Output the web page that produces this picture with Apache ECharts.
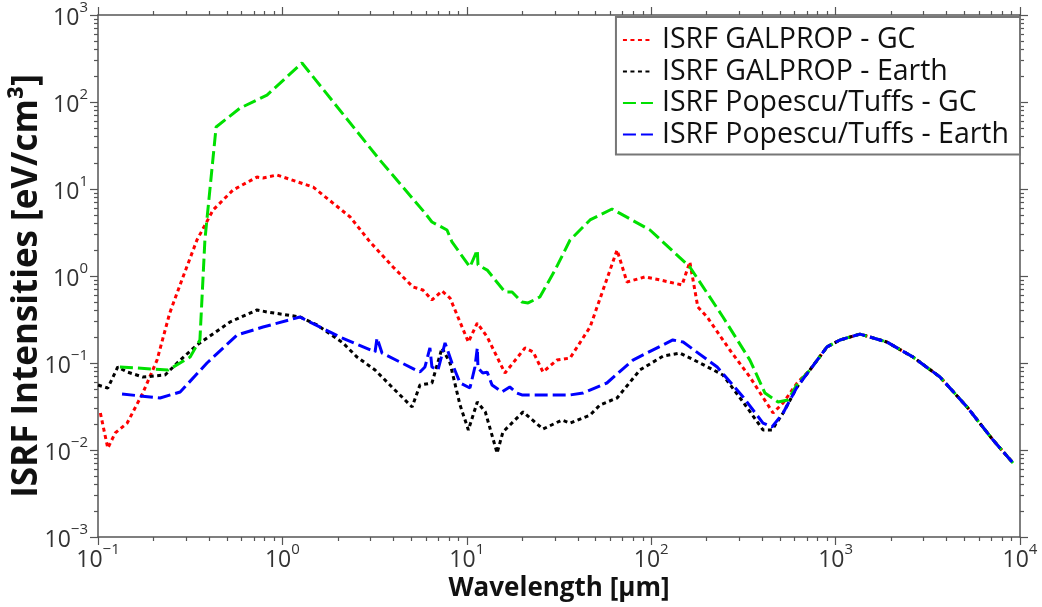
<!DOCTYPE html>
<html>
<head>
<meta charset="utf-8">
<script src="https://cdn.jsdelivr.net/npm/echarts@6/dist/echarts.min.js"></script>
<style>
html,body{margin:0;padding:0;background:#fff;}
#chart{width:1042px;height:607px;}
</style>
</head>
<body>
<div id="chart"></div>
<script>
// ---- data (wavelength in µm, intensity in eV/cm^3) ----
const seriesNames = ['ISRF GALPROP - GC', 'ISRF GALPROP - Earth', 'ISRF Popescu/Tuffs - GC', 'ISRF Popescu/Tuffs - Earth'];

const wlGalGC = [0.103,0.113,0.124,0.144,0.175,0.209,0.245,0.289,0.344,0.421,0.540,0.728,0.785,0.935,1.47,2.33,2.99,3.98,5.11,5.78,6.47,7.34,8.11,10.2,11.4,12.9,16.1,20.7,22.9,25.9,30.8,36.3,46.6,65.3,73.9,92.5,112,147,162,179,201,267,343,458,519,618];
const inGalGC = [0.0266,0.0105,0.0157,0.0204,0.0452,0.108,0.376,0.975,2.59,5.74,9.75,13.7,13.4,14.5,10.5,4.77,2.46,1.27,0.748,0.690,0.530,0.673,0.558,0.174,0.288,0.199,0.0767,0.149,0.134,0.0788,0.108,0.114,0.259,1.99,0.853,0.975,0.90,0.789,1.45,0.44,0.338,0.141,0.069,0.0266,0.0347,0.0589];

const wlGalEarth = [0.100,0.113,0.128,0.144,0.175,0.231,0.279,0.344,0.520,0.728,0.825,1.245,1.54,2.13,2.54,3.18,3.83,5.05,5.57,6.47,7.34,8.11,9.19,10.2,11.4,12.6,14.6,15.7,20.2,25.9,32.8,36.3,46.6,52.7,65.3,86.9,116,143,184,245,315,404,452,519,618];
const inGalEarth = [0.0558,0.0516,0.090,0.0788,0.069,0.0728,0.108,0.161,0.296,0.407,0.386,0.338,0.274,0.170,0.117,0.0832,0.0558,0.0312,0.0558,0.0589,0.149,0.100,0.0329,0.0170,0.0356,0.0274,0.00924,0.0161,0.0274,0.0174,0.0221,0.0204,0.0252,0.0329,0.0396,0.0832,0.120,0.130,0.100,0.0728,0.0356,0.0170,0.0170,0.0266,0.0530];

const wlPopGC = [0.1315,0.240,0.316,0.357,0.380,0.437,0.589,0.825,1.277,3.38,5.93,6.47,7.81,8.31,10.4,11.4,11.5,12.9,16.1,17.6,19.9,21.5,24.9,30.1,36.3,46.6,61.3,98.5,162,245,343,414,487,552,625];
const inPopGC = [0.090,0.083,0.117,0.184,2.6,51.6,85,120,281,21.5,5.3,4.18,3.38,2.46,1.27,1.99,1.34,1.17,0.655,0.655,0.502,0.49,0.574,1.17,2.59,4.41,5.89,3.38,1.27,0.338,0.108,0.0452,0.0356,0.0376,0.0589];

const wlPopEarth = [0.135,0.217,0.279,0.390,0.568,0.785,1.245,2.05,3.18,3.26,3.47,5.57,5.93,6.31,6.47,6.98,7.62,8.31,9.19,10.4,11.07,11.4,11.5,12.2,12.9,13.7,15.5,17.1,18.7,19.9,36.3,42.7,57.5,79.6,131,149,228,315,404,452,519,618];
const inPopEarth = [0.0440,0.0396,0.0464,0.100,0.210,0.259,0.338,0.199,0.134,0.194,0.130,0.0788,0.090,0.149,0.090,0.0832,0.170,0.100,0.0589,0.0516,0.090,0.149,0.0877,0.0767,0.0785,0.0558,0.0464,0.0530,0.0452,0.0429,0.0429,0.0452,0.0589,0.108,0.184,0.174,0.090,0.0407,0.0204,0.0184,0.0266,0.0530];

// common dust-emission tail shared by all four curves
const wlTail = [726,898,1057,1356,1901,2630,3683,5164,7145,9164];
const inTail = [0.0832,0.153,0.184,0.215,0.174,0.117,0.069,0.0312,0.0130,0.0071];

const xMajor = [0.1, 1, 10, 100, 1000, 10000];
const yMajor = [0.001, 0.01, 0.1, 1, 10, 100, 1000];

// ---- build ----
function minors(lo, hi) {
  const out = [];
  for (let k = lo; k < hi; k++) for (let m = 2; m <= 9; m++) out.push(+(m * Math.pow(10, k)).toPrecision(3));
  return out;
}
const xMinor = minors(-1, 4);
const yMinor = minors(-3, 3);

function pairs(wl, iv) {
  const d = wl.map((w, i) => [w, iv[i]]);
  return d.concat(wlTail.map((w, i) => [w, inTail[i]]));
}

const FONT = 'Open Sans';
const AX = '#555';
function supLabel(v) {
  const e = Math.round(Math.log10(v));
  const s = e < 0 ? '\u2212' + (-e) : '' + e;
  return '{b|10}{e|' + s + '}';
}
const rich = {
  b: { fontSize: 23, fontFamily: FONT, color: '#333', lineHeight: 30, verticalAlign: 'bottom' },
  e: { fontSize: 15, fontFamily: FONT, color: '#333', lineHeight: 15, verticalAlign: 'top' }
};

function mkAxis(pos, vals, isMajor, range, extra) {
  const a = {
    type: 'log', logBase: 10, min: range[0], max: range[1], position: pos,
    splitLine: { show: false },
    axisLine: { show: isMajor, onZero: false, lineStyle: { color: AX, width: 1.5 } },
    axisTick: { show: true, inside: false, length: isMajor ? 8 : 4, customValues: vals, lineStyle: { color: AX, width: 1.2 } },
    axisLabel: { show: false }
  };
  return Object.assign(a, extra || {});
}

const xr = [0.1, 10000], yr = [0.001, 1000];
const xAxes = [
  mkAxis('bottom', xMajor, true, xr, {
    axisLabel: { show: true, customValues: xMajor, formatter: supLabel, rich: rich, margin: 5 },
    name: 'Wavelength [\u00b5m]', nameLocation: 'middle', nameGap: 39, nameMoveOverlap: false,
    nameTextStyle: { fontFamily: FONT, fontSize: 26, fontWeight: 'bold', color: '#111' }
  }),
  mkAxis('bottom', xMinor, false, xr),
  mkAxis('top', xMajor, true, xr),
  mkAxis('top', xMinor, false, xr)
];
const yAxes = [
  mkAxis('left', yMajor, true, yr, {
    axisLabel: { show: true, customValues: yMajor, formatter: supLabel, rich: rich, margin: 10 },
    name: 'ISRF Intensities [eV/cm\u00b3]', nameLocation: 'middle', nameGap: 53, nameRotate: 90, nameMoveOverlap: false,
    nameTextStyle: { fontFamily: FONT, fontSize: 35, fontWeight: 'bold', color: '#111', padding: [0, 20, 0, 0] }
  }),
  mkAxis('left', yMinor, false, yr),
  mkAxis('right', yMajor, true, yr),
  mkAxis('right', yMinor, false, yr)
];

const styles = [
  { color: '#ff0000', type: [4, 3.5] },
  { color: '#000000', type: [4, 3.5] },
  { color: '#00e000', type: [13, 5] },
  { color: '#0000ff', type: [13, 5] }
];
const dataSets = [pairs(wlGalGC, inGalGC), pairs(wlGalEarth, inGalEarth), pairs(wlPopGC, inPopGC), pairs(wlPopEarth, inPopEarth)];

const series = seriesNames.map((n, i) => ({
  name: n, type: 'line', xAxisIndex: 0, yAxisIndex: 0,
  symbol: 'none', showSymbol: false, smooth: false, animation: false,
  data: dataSets[i],
  itemStyle: { color: styles[i].color },
  lineStyle: { color: styles[i].color, width: 3, type: styles[i].type, cap: 'butt' },
  z: 2 + i
}));

const chart = echarts.init(document.getElementById('chart'), null, { renderer: 'canvas' });
chart.setOption({
  animation: false,
  backgroundColor: '#fff',
  grid: { left: 98, right: 22, top: 15, bottom: 70, containLabel: false, outerBoundsMode: 'none' },
  legend: {
    data: seriesNames, orient: 'vertical', right: 22, top: 17,
    backgroundColor: '#fff', borderColor: '#777', borderWidth: 2, borderRadius: 0,
    padding: [8, 11, 5, 6], itemWidth: 30, itemHeight: 14, itemGap: 1.5,
    itemStyle: { opacity: 0 },
    textStyle: { fontFamily: FONT, fontSize: 28.5, color: '#111', lineHeight: 30, padding: [0, 0, 0, 4] }
  },
  xAxis: xAxes,
  yAxis: yAxes,
  series: series
});
</script>
</body>
</html>
